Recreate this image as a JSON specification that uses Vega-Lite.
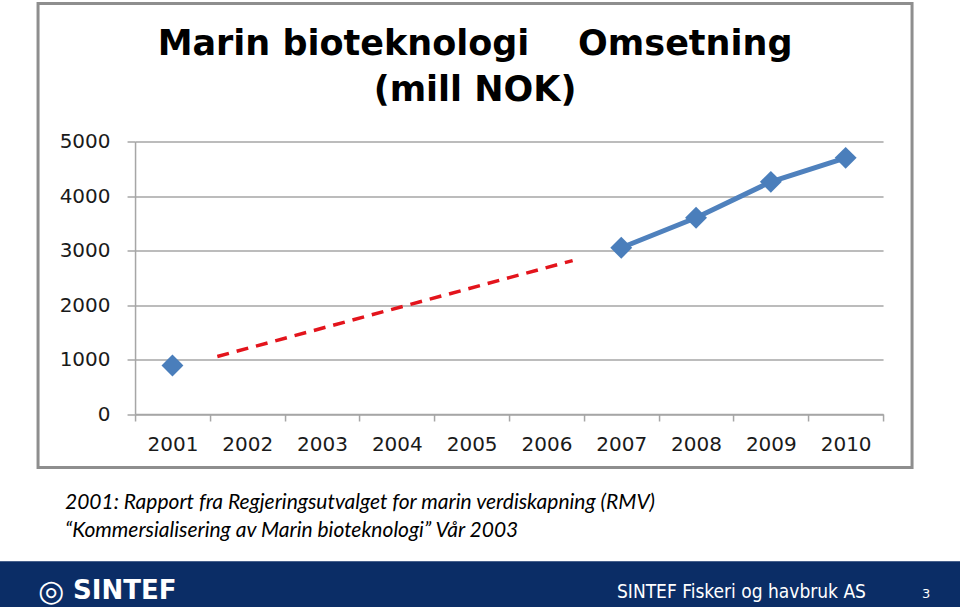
{
  "$schema": "https://vega.github.io/schema/vega-lite/v6.json",
  "padding": {"left": 0, "right": 0, "top": 1.5, "bottom": 0},
  "background": "white",
  "config": {"view": {"stroke": null}},
  "datasets": {
    "omsetning": [
      {"year": 2001, "value": 890, "period": "2001"},
      {"year": 2007, "value": 3050, "period": "2007-2010"},
      {"year": 2008, "value": 3600, "period": "2007-2010"},
      {"year": 2009, "value": 4260, "period": "2007-2010"},
      {"year": 2010, "value": 4700, "period": "2007-2010"}
    ],
    "trend": [
      {"year": 2001.6, "value": 1055},
      {"year": 2006.35, "value": 2815}
    ]
  },
  "center": true,
  "spacing": 22.7,
  "vconcat": [
    {
      "width": 874,
      "height": 464,
      "view": {"fill": "white", "stroke": "#8e8e8e", "strokeWidth": 3},
      "title": {
        "text": ["Marin bioteknologi\u00a0\u00a0\u00a0 Omsetning", "(mill NOK)"],
        "anchor": "middle",
        "frame": "group",
        "offset": -132.5,
        "baseline": "alphabetic",
        "font": "DejaVu Sans",
        "fontWeight": "bold",
        "fontSize": 35,
        "lineHeight": 46,
        "color": "#000000"
      },
      "layer": [
        {
          "data": {"name": "trend"},
          "mark": {"type": "line", "color": "#e3141c", "strokeWidth": 3.5, "strokeDash": [12, 8], "strokeCap": "butt"},
          "encoding": {
            "x": {"field": "year", "type": "quantitative",
              "scale": {"domain": [2000.5, 2010.5], "range": [97, 845], "nice": false, "zero": false},
              "axis": {"orient": "bottom", "offset": -53.5, "title": null, "grid": false,
                "values": [2000.5, 2001.5, 2002.5, 2003.5, 2004.5, 2005.5, 2006.5, 2007.5, 2008.5, 2009.5, 2010.5],
                "labelExpr": "datum.value < 2010 ? format(datum.value + 0.5, 'd') : ''",
                "labelOffset": 37.4, "labelOverlap": false, "labelBound": false, "labelFlush": false,
                "tickSize": 7, "tickColor": "#a6a6a6", "tickWidth": 1.5,
                "domainColor": "#a6a6a6", "domainWidth": 1.5,
                "labelFont": "DejaVu Sans", "labelFontSize": 20, "labelColor": "#1a1a1a", "labelPadding": 13}},
            "y": {"field": "value", "type": "quantitative",
              "scale": {"domain": [0, 5000], "range": [410.5, 138], "nice": false},
              "axis": {"orient": "left", "offset": -97, "title": null, "grid": true,
                "values": [0, 1000, 2000, 3000, 4000, 5000], "format": "d",
                "gridColor": "#a6a6a6", "gridWidth": 1.5,
                "tickSize": 8, "tickColor": "#a6a6a6", "tickWidth": 1.5,
                "domainColor": "#a6a6a6", "domainWidth": 1.5,
                "labelFont": "DejaVu Sans", "labelFontSize": 20, "labelColor": "#1a1a1a", "labelPadding": 17}}
          }
        },
        {
          "data": {"name": "omsetning"},
          "mark": {"type": "line", "color": "#4f81bd", "strokeWidth": 5},
          "encoding": {
            "x": {"field": "year", "type": "quantitative"},
            "y": {"field": "value", "type": "quantitative"},
            "detail": {"field": "period"}
          }
        },
        {
          "data": {"name": "omsetning"},
          "mark": {"type": "point", "shape": "diamond", "filled": true, "size": 480, "color": "#4a7ebb", "opacity": 1},
          "encoding": {
            "x": {"field": "year", "type": "quantitative"},
            "y": {"field": "value", "type": "quantitative"}
          }
        }
      ]
    },
    {
      "title": {
        "text": ["2001: Rapport fra Regjeringsutvalget for marin verdiskapning (RMV)", "\u201cKommersialisering av Marin bioteknologi\u201d V\u00e5r 2003"],
        "anchor": "start",
        "frame": "group",
        "dx": 65,
        "offset": 3,
        "baseline": "alphabetic",
        "font": "Lato",
        "fontSize": 21,
        "fontStyle": "italic",
        "fontWeight": "normal",
        "lineHeight": 28,
        "color": "#000000"
      },
      "spacing": 0,
      "hconcat": [
        {
          "width": 68, "height": 49,
          "view": {"fill": "#0b2d66", "stroke": null},
          "title": {"text": "\u25ce", "anchor": "start", "frame": "group", "dx": 38, "offset": -70,
            "baseline": "alphabetic", "font": "DejaVu Sans", "fontWeight": "bold", "fontSize": 30, "color": "#ffffff"},
          "data": {"values": []},
          "mark": "text",
          "encoding": {}
        },
        {
          "width": 512, "height": 49,
          "view": {"fill": "#0b2d66", "stroke": null},
          "title": {"text": "SINTEF", "anchor": "start", "frame": "group", "dx": 5, "offset": -64,
            "baseline": "alphabetic", "font": "DejaVu Sans", "fontWeight": "bold", "fontSize": 26, "color": "#ffffff"},
          "data": {"values": []},
          "mark": "text",
          "encoding": {}
        },
        {
          "width": 320, "height": 49,
          "view": {"fill": "#0b2d66", "stroke": null},
          "title": {"text": "SINTEF Fiskeri og havbruk AS", "anchor": "start", "frame": "group", "dx": 37, "offset": -56,
            "baseline": "alphabetic", "font": "DejaVu Sans Condensed, Liberation Sans Narrow, DejaVu Sans", "fontWeight": "normal", "fontSize": 19, "color": "#ffffff"},
          "data": {"values": []},
          "mark": "text",
          "encoding": {}
        },
        {
          "width": 60, "height": 49,
          "view": {"fill": "#0b2d66", "stroke": null},
          "title": {"text": "3", "anchor": "start", "frame": "group", "dx": 22, "offset": -50,
            "baseline": "alphabetic", "font": "DejaVu Sans", "fontWeight": "normal", "fontSize": 13, "color": "#ffffff"},
          "data": {"values": []},
          "mark": "text",
          "encoding": {}
        }
      ]
    }
  ]
}
